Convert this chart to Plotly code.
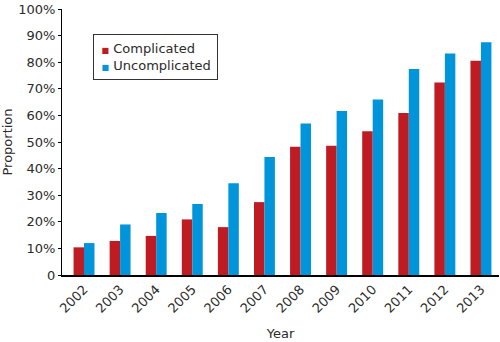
import plotly.graph_objects as go

years = [2002, 2003, 2004, 2005, 2006, 2007, 2008, 2009, 2010, 2011, 2012, 2013]
complicated = [10.4, 12.8, 14.7, 20.9, 18.0, 27.4, 48.2, 48.6, 54.0, 60.9, 72.4, 80.5]
uncomplicated = [12.0, 19.0, 23.3, 26.7, 34.5, 44.4, 57.0, 61.7, 66.0, 77.4, 83.3, 87.5]
series_names = ["Complicated", "Uncomplicated"]
y_ticks = [0, 10, 20, 30, 40, 50, 60, 70, 80, 90, 100]
y_tick_text = ["0"] + [f"{v}%" for v in y_ticks[1:]]

RED = "#BE1B23"
BLUE = "#0095DA"
FONT = "DejaVu Sans, sans-serif"
TEXT = "#2b2b2b"

fig = go.Figure()
for name, vals, col in zip(series_names, [complicated, uncomplicated], [RED, BLUE]):
    fig.add_trace(go.Bar(x=years, y=vals, name=name, showlegend=False,
                         marker=dict(color=col, line=dict(width=0))))

# Boxed key with small square swatches
key_lines = [
    f"<span style='font-size:5px'> </span><span style='color:{col};font-size:8px'>■</span> {name}"
    for name, col in zip(series_names, [RED, BLUE])
]
fig.add_annotation(
    xref="paper", yref="paper", x=(93 - 62) / 437, y=(275 - 34) / 266,
    xanchor="left", yanchor="top", showarrow=False, align="left",
    text="<br>".join(key_lines),
    font=dict(family=FONT, size=13, color=TEXT),
    bgcolor="white", bordercolor="#333333", borderwidth=1, borderpad=6,
)

fig.update_layout(
    width=500, height=342,
    margin=dict(l=62, r=1, t=9, b=67),
    paper_bgcolor="white", plot_bgcolor="white",
    barmode="group", bargap=0.42, bargroupgap=0,
    font=dict(family=FONT, size=13, color=TEXT),
    xaxis=dict(
        range=[2001.39, 2013.5],
        tickmode="array", tickvals=years, ticktext=[str(y) for y in years],
        tickangle=-45, showgrid=False, zeroline=False,
        showline=True, linecolor="#000000", linewidth=1.5,
        ticks="", tickfont=dict(size=13, color=TEXT),
        title=dict(text="Year", font=dict(size=13, color=TEXT), standoff=14),
    ),
    yaxis=dict(
        range=[0, 100],
        tickmode="array", tickvals=y_ticks, ticktext=y_tick_text,
        ticklabeloverflow="allow",
        showgrid=False, zeroline=False,
        showline=True, linecolor="#000000", linewidth=1,
        ticks="outside", ticklen=3, tickcolor="#000000",
        tickfont=dict(size=13, color=TEXT),
        title=dict(text="Proportion", font=dict(size=13, color=TEXT), standoff=4),
    ),
)

fig.write_html("out.html")
